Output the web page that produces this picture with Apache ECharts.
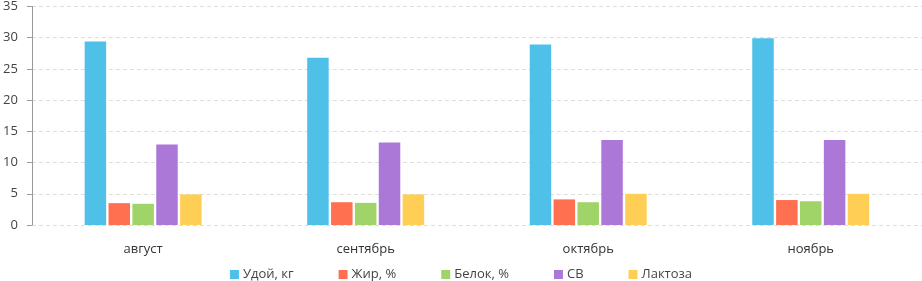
<!DOCTYPE html>
<html><head><meta charset="utf-8">
<script src="https://cdn.jsdelivr.net/npm/echarts@6/dist/echarts.min.js"></script>
<style>html,body{margin:0;padding:0;background:#fff}#c{width:922px;height:281px}</style>
</head><body><div id="c"></div>
<script>
const categories = ['август', 'сентябрь', 'октябрь', 'ноябрь'];
const seriesNames = ['Удой, кг', 'Жир, %', 'Белок, %', 'СВ', 'Лактоза'];
const udoy = [29.4, 26.8, 28.9, 29.9];
const zhir = [3.5, 3.65, 4.1, 4.0];
const belok = [3.4, 3.55, 3.65, 3.8];
const sv = [12.9, 13.2, 13.6, 13.6];
const laktoza = [4.9, 4.9, 5.0, 5.0];
const yTicks = [0, 5, 10, 15, 20, 25, 30, 35];
const colors = ['#4FC1E9', '#FF7050', '#A0D468', '#AC78D8', '#FFCE54'];
const values = [udoy, zhir, belok, sv, laktoza];

const chart = echarts.init(document.getElementById('c'));
const font = '"Open Sans", "Noto Sans", sans-serif';
chart.setOption({
  animation: false,
  color: colors,
  textStyle: { fontFamily: font },
  grid: { left: 29.5, right: 0, top: 5, bottom: 56 },
  legend: {
    top: 263, left: 'center',
    itemWidth: 9, itemHeight: 9, itemGap: 45,
    icon: 'rect',
    textStyle: { fontSize: 13, color: '#444', fontFamily: font, padding: [0,0,0,-1] },
    data: seriesNames
  },
  xAxis: {
    type: 'category', data: categories,
    axisLine: { show: false }, axisTick: { show: false },
    axisLabel: { fontSize: 13, color: '#333', margin: 18, fontFamily: font }
  },
  yAxis: {
    type: 'value', min: yTicks[0], max: yTicks[yTicks.length - 1], interval: 5,
    axisLine: { show: true, lineStyle: { color: '#999' } },
    axisTick: { show: true, length: 5, lineStyle: { color: '#999' } },
    axisLabel: { fontSize: 13, color: '#444', margin: 14, fontFamily: font },
    splitLine: { lineStyle: { color: '#ddd', type: [4, 3] } }
  },
  series: seriesNames.map((n, i) => ({
    name: n, type: 'bar', data: values[i],
    barWidth: 21.5, barGap: '11%'
  }))
});
</script></body></html>
